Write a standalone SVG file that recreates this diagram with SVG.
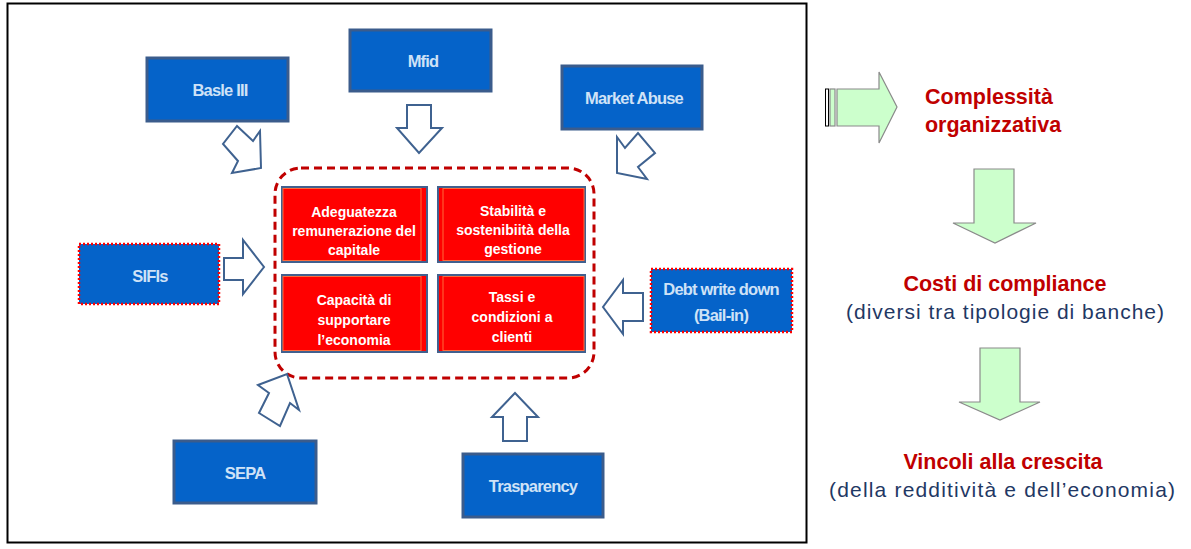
<svg xmlns="http://www.w3.org/2000/svg" width="1191" height="549" viewBox="0 0 1191 549">
<style>
.bb{fill:#0563c9;stroke:#3b5c8c;stroke-width:3}
.bd{fill:#0563c9;stroke:#ff0000;stroke-width:2.5;stroke-dasharray:2,2}
.bt{font-family:"Liberation Sans",Arial,sans-serif;font-size:16.5px;font-weight:bold;fill:#cfe2f7;text-anchor:middle;letter-spacing:-0.8px}
.rb{fill:#ff0000;stroke:#41608e;stroke-width:2}
.ri{fill:none;stroke:#ff6a3a;stroke-width:1}
.rt{font-family:"Liberation Sans",Arial,sans-serif;font-size:14px;font-weight:bold;fill:#ffffff;text-anchor:middle}
.ha{fill:#ffffff;stroke:#3f6290;stroke-width:2;stroke-linejoin:miter}
.ga{fill:#ccffcc;stroke:#8a8a8a;stroke-width:1.2}
.h{font-family:"Liberation Sans",Arial,sans-serif;font-size:21.5px;font-weight:bold;fill:#c00000;text-anchor:middle}
.s{font-family:"Liberation Sans",Arial,sans-serif;font-size:21px;fill:#1f3864;text-anchor:middle}
</style>
<rect x="7.5" y="3.5" width="799" height="539" fill="#ffffff" stroke="#000000" stroke-width="2"/>

<g id="core">
  <rect x="275" y="168" width="319" height="210" rx="26" fill="none" stroke="#c00000" stroke-width="3" stroke-dasharray="8,5"/>
  <g id="c1">
    <rect class="rb" x="282" y="187" width="145" height="75"/>
    <rect class="ri" x="283" y="188.5" width="138" height="72"/>
    <text class="rt" x="354" y="217">Adeguatezza</text>
    <text class="rt" x="354" y="236">remunerazione del</text>
    <text class="rt" x="354" y="255">capitale</text>
  </g>
  <g id="c2">
    <rect class="rb" x="438" y="187" width="147" height="75"/>
    <rect class="ri" x="443" y="188.5" width="141" height="72"/>
    <text class="rt" x="513" y="216">Stabilità e</text>
    <text class="rt" x="513" y="235">sostenibiità della</text>
    <text class="rt" x="513" y="254">gestione</text>
  </g>
  <g id="c3">
    <rect class="rb" x="282" y="275" width="145" height="77"/>
    <rect class="ri" x="283" y="276.5" width="138" height="74"/>
    <text class="rt" x="354" y="305">Capacità di</text>
    <text class="rt" x="354" y="325">supportare</text>
    <text class="rt" x="354" y="345">l’economia</text>
  </g>
  <g id="c4">
    <rect class="rb" x="438" y="275" width="147" height="77"/>
    <rect class="ri" x="443" y="276.5" width="141" height="74"/>
    <text class="rt" x="512" y="302">Tassi e</text>
    <text class="rt" x="512" y="322">condizioni a</text>
    <text class="rt" x="512" y="342">clienti</text>
  </g>
</g>

<g id="basle"><rect class="bb" x="147" y="58" width="141" height="63"/><text class="bt" x="220" y="96">Basle III</text></g>
<g id="mfid"><rect class="bb" x="350" y="30" width="141" height="61"/><text class="bt" x="423" y="67">Mfid</text></g>
<g id="market"><rect class="bb" x="562" y="66" width="140" height="63"/><text class="bt" x="634" y="104">Market Abuse</text></g>
<g id="sifis"><rect class="bd" x="79" y="244" width="140" height="60"/><text class="bt" x="150" y="282">SIFIs</text></g>
<g id="debt"><rect class="bd" x="651" y="269" width="141" height="63"/><text class="bt" x="721" y="295">Debt write down</text><text class="bt" x="721" y="321">(Bail-in)</text></g>
<g id="sepa"><rect class="bb" x="174" y="441" width="142" height="62"/><text class="bt" x="245" y="479">SEPA</text></g>
<g id="trasparency"><rect class="bb" x="463" y="454" width="140" height="63"/><text class="bt" x="533" y="492">Trasparency</text></g>

<g id="connectors">
  <polygon class="ha" points="407,105 431,105 431,128 442,128 419,153 397,128 407,128"/>
  <polygon class="ha" points="503,441 527,441 527,417 538,417 515,393 492,417 503,417"/>
  <polygon class="ha" points="224,258 243,258 243,240 264,267 243,294 243,280 224,280"/>
  <polygon class="ha" points="643,293 623,293 623,280 603,307 623,334 623,321 643,321"/>
  <polygon class="ha" points="237,126 253,141 260,131 261,168 232,173 238,161 223,144"/>
  <polygon class="ha" points="617,137 625,148 638,133 655,153 638,167 647,179 617,173"/>
  <polygon class="ha" points="258,385 287,374 299,410 290,403 280,426 259,413 269,393"/>
</g>

<g id="flow">
  <g id="g1">
    <rect x="825.5" y="89" width="3" height="37" fill="#ffffff" stroke="#000000" stroke-width="1"/>
    <rect x="830" y="89" width="5" height="37" class="ga"/>
    <polygon class="ga" points="837,89 879,89 879,72 897,107 879,143 879,126 837,126"/>
  </g>
  <g id="t1">
    <text class="h" x="989" y="104">Complessità</text>
    <text class="h" x="993" y="132">organizzativa</text>
  </g>
  <polygon id="g2" class="ga" points="974,169 1014,169 1014,223 1036,223 995,243 953,223 974,223"/>
  <g id="t2">
    <text class="h" x="1005" y="291">Costi di compliance</text>
    <text class="s" x="1005" y="319" textLength="318">(diversi tra tipologie di banche)</text>
  </g>
  <polygon id="g3" class="ga" points="980,348 1020,348 1020,402 1040,402 1000,420 959,402 980,402"/>
  <g id="t3">
    <text class="h" x="1003" y="469">Vincoli alla crescita</text>
    <text class="s" x="1002" y="497" textLength="346">(della redditività e dell’economia)</text>
  </g>
</g>
</svg>
